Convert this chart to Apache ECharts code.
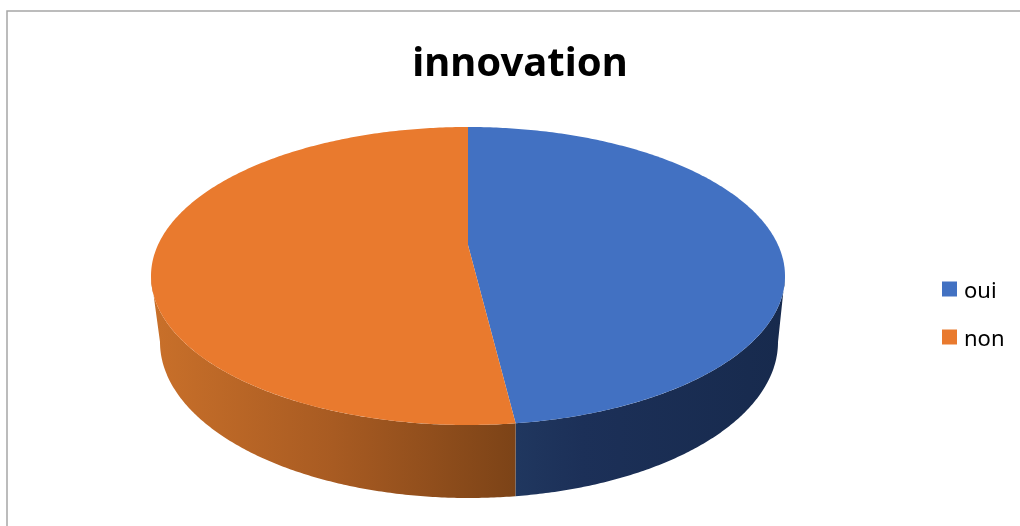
<!DOCTYPE html>
<html>
<head>
<meta charset="utf-8">
<style>html,body{margin:0;padding:0;background:#fff}#c{width:1020px;height:526px}</style>
<script src="https://cdn.jsdelivr.net/npm/echarts@6/dist/echarts.min.js"></script>
</head>
<body>
<div id="c"></div>
<script>
const chartTitle = 'innovation';
const categories = ['oui', 'non'];
const values = [47.6, 52.4];
const topColors = ['#4271C2', '#E97A2E'];
const sideStops = [
  [[0, '#20375F'], [0.25, '#1C3058'], [1, '#172A4D']],
  [[0, '#C9702A'], [0.5, '#A85B22'], [1, '#7C4317']]
];

const chart = echarts.init(document.getElementById('c'), null, {renderer: 'canvas'});
const total = values.reduce((a, b) => a + b, 0);
const topE = {cx: 468, cy: 276, rx: 317, ry: 149};
const botE = {cx: 469, cy: 342, rx: 309, ry: 156};
const apex = [468, 245];
const pt = (e, t) => [e.cx + e.rx * Math.sin(t), e.cy - e.ry * Math.cos(t)];

function arc(e, a, b) {
  const n = Math.max(2, Math.ceil(Math.abs(b - a) / 0.01));
  const out = [];
  for (let i = 0; i <= n; i++) out.push(pt(e, a + (b - a) * i / n));
  return out;
}

function sliceRender(index) {
  return function (params, api) {
    const v = api.value(0);
    let before = 0;
    for (let i = 0; i < index; i++) before += values[i];
    const a = before / total * 2 * Math.PI;
    const b = a + v / total * 2 * Math.PI;
    const children = [];
    const s0 = Math.max(a, Math.PI / 2), s1 = Math.min(b, 3 * Math.PI / 2);
    if (s1 > s0) {
      const sidePts = arc(topE, s0, s1).concat(arc(botE, s0, s1).reverse());
      const xs = sidePts.map(p => p[0]);
      children.push({
        type: 'polygon',
        shape: {points: sidePts},
        style: {
          fill: new echarts.graphic.LinearGradient(
            Math.min(...xs), 0, Math.max(...xs), 0,
            sideStops[index].map(s => ({offset: s[0], color: s[1]})), true)
        }
      });
    }
    children.push({
      type: 'polygon',
      shape: {points: [apex].concat(arc(topE, a, b))},
      style: {fill: topColors[index]}
    });
    return {type: 'group', children};
  };
}

chart.setOption({
  animation: false,
  backgroundColor: '#fff',
  title: {
    text: chartTitle,
    left: 515, top: 31, textAlign: 'center',
    textStyle: {fontFamily: 'Noto Sans', fontWeight: 'bold', fontSize: 40, color: '#000', lineHeight: 58}
  },
  legend: {
    orient: 'vertical',
    left: 942, top: 275,
    padding: 0,
    itemWidth: 15, itemHeight: 15, itemGap: 20,
    icon: 'rect',
    data: categories,
    formatter: name => `{t|${name}}`,
    textStyle: {
      rich: {t: {fontFamily: 'Noto Sans', fontSize: 22, color: '#000', padding: [6, 0, 0, 2], lineHeight: 21}}
    }
  },
  graphic: [{
    type: 'rect', silent: true, z: -1,
    shape: {x: 7, y: 11, width: 1040, height: 560},
    style: {fill: 'none', stroke: '#A6A6A6', lineWidth: 1.5}
  }],
  series: categories.map((name, i) => ({
    type: 'custom',
    name,
    coordinateSystem: 'none',
    silent: true,
    itemStyle: {color: topColors[i]},
    renderItem: sliceRender(i),
    data: [[values[i]]]
  }))
});
</script>
</body>
</html>
